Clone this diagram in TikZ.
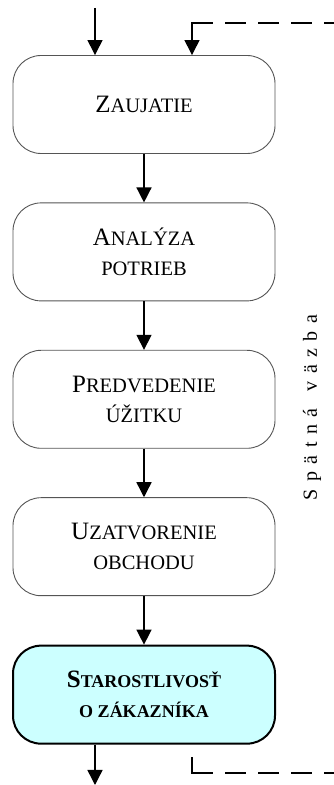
\documentclass[tikz,border=0pt]{standalone}
\usepackage{fontspec}
\setmainfont{Liberation Serif}
\usepackage{tikz}
\usetikzlibrary{positioning, arrows.meta}
\definecolor{StepBorder}{HTML}{555555}
\definecolor{CareCyan}{HTML}{CCFFFF}
\newcommand{\scword}[2]{{\fontsize{25}{30}\selectfont #1}#2}
\newcommand{\lsp}{\hspace{7.5pt}}

\begin{document}
\begin{tikzpicture}[
  x=1pt, y=1pt,
  >={Triangle[length=15pt, width=15pt]},
  flowarr/.style={->, line width=1.4pt},
  fbline/.style={line width=1.4pt, dash pattern=on 21pt off 12pt},
  stepbox/.style={draw=StepBorder, line width=0.9pt, rounded corners=28pt,
                  minimum width=262pt, minimum height=98pt, align=center,
                  inner sep=2pt, font=\fontsize{20.5}{30}\selectfont},
  carebox/.style={stepbox, draw=black, line width=2pt, fill=CareCyan,
                  font=\bfseries\fontsize{18}{30}\selectfont},
  node distance=48.5pt,
]
  \useasboundingbox (0,0) rectangle (334,785);

  % Sales steps, top to bottom
  \node[stepbox] (Z) at (144, 680.5) {\scword{Z}{AUJATIE}};
  \node[stepbox, below=of Z] (A) {\scword{A}{NALÝZA}\\POTRIEB};
  \node[stepbox, below=of A] (P) {\scword{P}{REDVEDENIE}\\ÚŽITKU};
  \node[stepbox, below=of P] (U) {\scword{U}{ZATVORENIE}\\OBCHODU};
  \node[carebox, below=of U] (S) {\scword{S}{TAROSTLIVOSŤ}\\O ZÁKAZNÍKA};

  %% step to step
  \foreach \a/\b in {Z/A, A/P, P/U, U/S}
    \draw[flowarr] (\a) -- (\b);

  %% in and out
  \coordinate (in) at (95, 777);
  \draw[flowarr] (in) -- (in |- Z.north);
  \coordinate (out) at (95, 0);
  \draw[flowarr] (out |- S.south) -- (out);

  %% feedback loop (runs off the right edge)
  \coordinate (fbIn) at ([xshift=48pt]Z.north);
  \coordinate (fbTopEnd) at (334, 762);
  \coordinate (fbTopCorner) at (fbIn |- fbTopEnd);
  \draw[fbline] (fbTopCorner) -- (fbTopEnd);
  \draw[flowarr, line cap=rect] (fbTopCorner) -- (fbIn);

  \coordinate (fbOut) at ([xshift=48pt, yshift=-13pt]S.south);
  \coordinate (fbBotEnd) at (334, 12);
  \coordinate (fbBotCorner) at (fbOut |- fbBotEnd);
  \draw[line width=1.4pt, line cap=rect] (fbOut) -- (fbBotCorner);
  \draw[fbline] (fbBotCorner) -- (fbBotEnd);

  % feedback label
  \node[rotate=90, font=\fontsize{20}{22}\selectfont] (fb) at (312, 377.5)
    {S\lsp p\lsp ä\lsp t\lsp n\lsp á\hspace{17pt}v\lsp ä\lsp z\lsp b\lsp a};

\end{tikzpicture}
\end{document}
